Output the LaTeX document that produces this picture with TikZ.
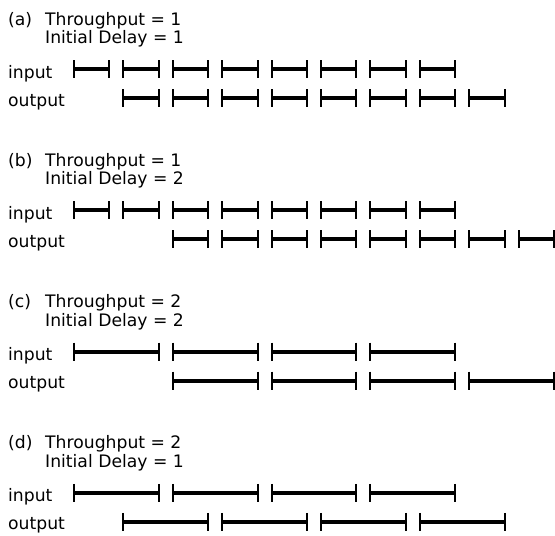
\documentclass[tikz,border=0pt]{standalone}
\usepackage{fontspec}
\setmainfont{DejaVu Sans}
\newcommand\segm[3]{%
  \pgfmathsetmacro\xa{74+#1*49.4}%
  \pgfmathsetmacro\xb{\xa+#2}%
  \draw[barline] (\xa,#3) -- (\xb,#3);
  \draw[tickline] (\xa,#3-9) -- (\xa,#3+9) (\xb,#3-9) -- (\xb,#3+9);
}
\begin{document}
\begin{tikzpicture}[x=1pt,y=-1pt,
  lbl/.style={anchor=base west,inner sep=0pt,font=\fontsize{17.2}{19}\selectfont},
  barline/.style={line width=3.8pt},
  tickline/.style={line width=2pt}]
\useasboundingbox (0,0) rectangle (555,536);
\foreach \k/\l/\t/\d in {0/a/1/1, 1/b/1/2, 2/c/2/2, 3/d/2/1}{
  \pgfmathsetmacro\dy{\k*141.3}
  \node[lbl] (p\l) at (8,25+\dy) {(\l)};
  \node[lbl] (th\l) at (45,25+\dy) {Throughput = \t};
  \node[lbl] (de\l) at (45,43.5+\dy) {Initial Delay = \d};
  \node[lbl] (in\l) at (8,78+\dy) {input};
  \node[lbl] (out\l) at (8,106+\dy) {output};
}
% (a)
\foreach \i in {0,...,7}{\segm{\i}{35.3}{69}}
\foreach \i in {1,...,8}{\segm{\i}{35.3}{98}}
% (b)
\foreach \i in {0,...,7}{\segm{\i}{35.3}{210.3}}
\foreach \i in {2,...,9}{\segm{\i}{35.3}{239.3}}
% (c)
\foreach \i in {0,2,4,6}{\segm{\i}{84.7}{351.6}}
\foreach \i in {2,4,6,8}{\segm{\i}{84.7}{380.6}}
% (d)
\foreach \i in {0,2,4,6}{\segm{\i}{84.7}{492.9}}
\foreach \i in {1,3,5,7}{\segm{\i}{84.7}{521.9}}
\end{tikzpicture}
\end{document}
